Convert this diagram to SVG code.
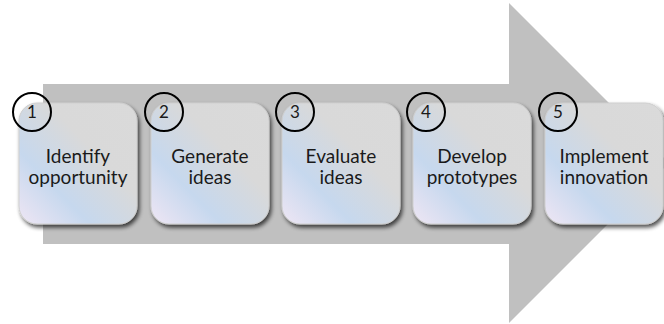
<svg xmlns="http://www.w3.org/2000/svg" width="664" height="324" viewBox="0 0 664 324">
<style>
.box{fill:url(#g);stroke:#cfcfcf;stroke-width:1;filter:url(#sh)}
.num{fill:none;stroke:#000;stroke-width:2}
.t{font-family:Lato,"Liberation Sans",sans-serif;font-size:19px;fill:#1a1a1a;text-anchor:middle}
.n{font-family:Lato,"Liberation Sans",sans-serif;font-size:17px;fill:#1a1a1a;text-anchor:middle}
</style>
<defs>
<linearGradient id="g" x1="0" y1="1" x2="1" y2="0">
<stop offset="0" stop-color="#efe6f4"/>
<stop offset="0.3" stop-color="#c6d8ee"/>
<stop offset="0.62" stop-color="#d9d9d9"/>
<stop offset="1" stop-color="#dadada"/>
</linearGradient>
<filter id="sh" x="-10%" y="-10%" width="125%" height="125%">
<feGaussianBlur in="SourceAlpha" stdDeviation="2"/>
<feOffset dx="2" dy="2.5" result="b"/>
<feComponentTransfer><feFuncA type="linear" slope="0.7"/></feComponentTransfer>
<feMerge><feMergeNode/><feMergeNode in="SourceGraphic"/></feMerge>
</filter>
</defs>
<g id="arrow">
<polygon points="43,84 509,84 509,3 669,163 509,323 509,244 43,244" fill="#c0c0c0"/>
</g>
<g id="step1">
<rect class="box" x="19" y="103" width="118" height="121" rx="18"/>
<circle class="num" cx="32" cy="112" r="19"/>
<text class="n" x="32" y="118">1</text>
<text class="t" x="78" y="163">Identify</text>
<text class="t" x="78" y="184">opportunity</text>
</g>
<g id="step2">
<rect class="box" x="151" y="103" width="118" height="121" rx="18"/>
<circle class="num" cx="164" cy="112" r="19"/>
<text class="n" x="164" y="118">2</text>
<text class="t" x="210" y="163">Generate</text>
<text class="t" x="210" y="184">ideas</text>
</g>
<g id="step3">
<rect class="box" x="282" y="103" width="118" height="121" rx="18"/>
<circle class="num" cx="295" cy="112" r="19"/>
<text class="n" x="295" y="118">3</text>
<text class="t" x="341" y="163">Evaluate</text>
<text class="t" x="341" y="184">ideas</text>
</g>
<g id="step4">
<rect class="box" x="413" y="103" width="118" height="121" rx="18"/>
<circle class="num" cx="426" cy="112" r="19"/>
<text class="n" x="426" y="118">4</text>
<text class="t" x="472" y="163">Develop</text>
<text class="t" x="472" y="184">prototypes</text>
</g>
<g id="step5">
<rect class="box" x="545" y="103" width="118" height="121" rx="18"/>
<circle class="num" cx="558" cy="112" r="19"/>
<text class="n" x="558" y="118">5</text>
<text class="t" x="604" y="163">Implement</text>
<text class="t" x="604" y="184">innovation</text>
</g>
<g id="connectors"></g>
</svg>
